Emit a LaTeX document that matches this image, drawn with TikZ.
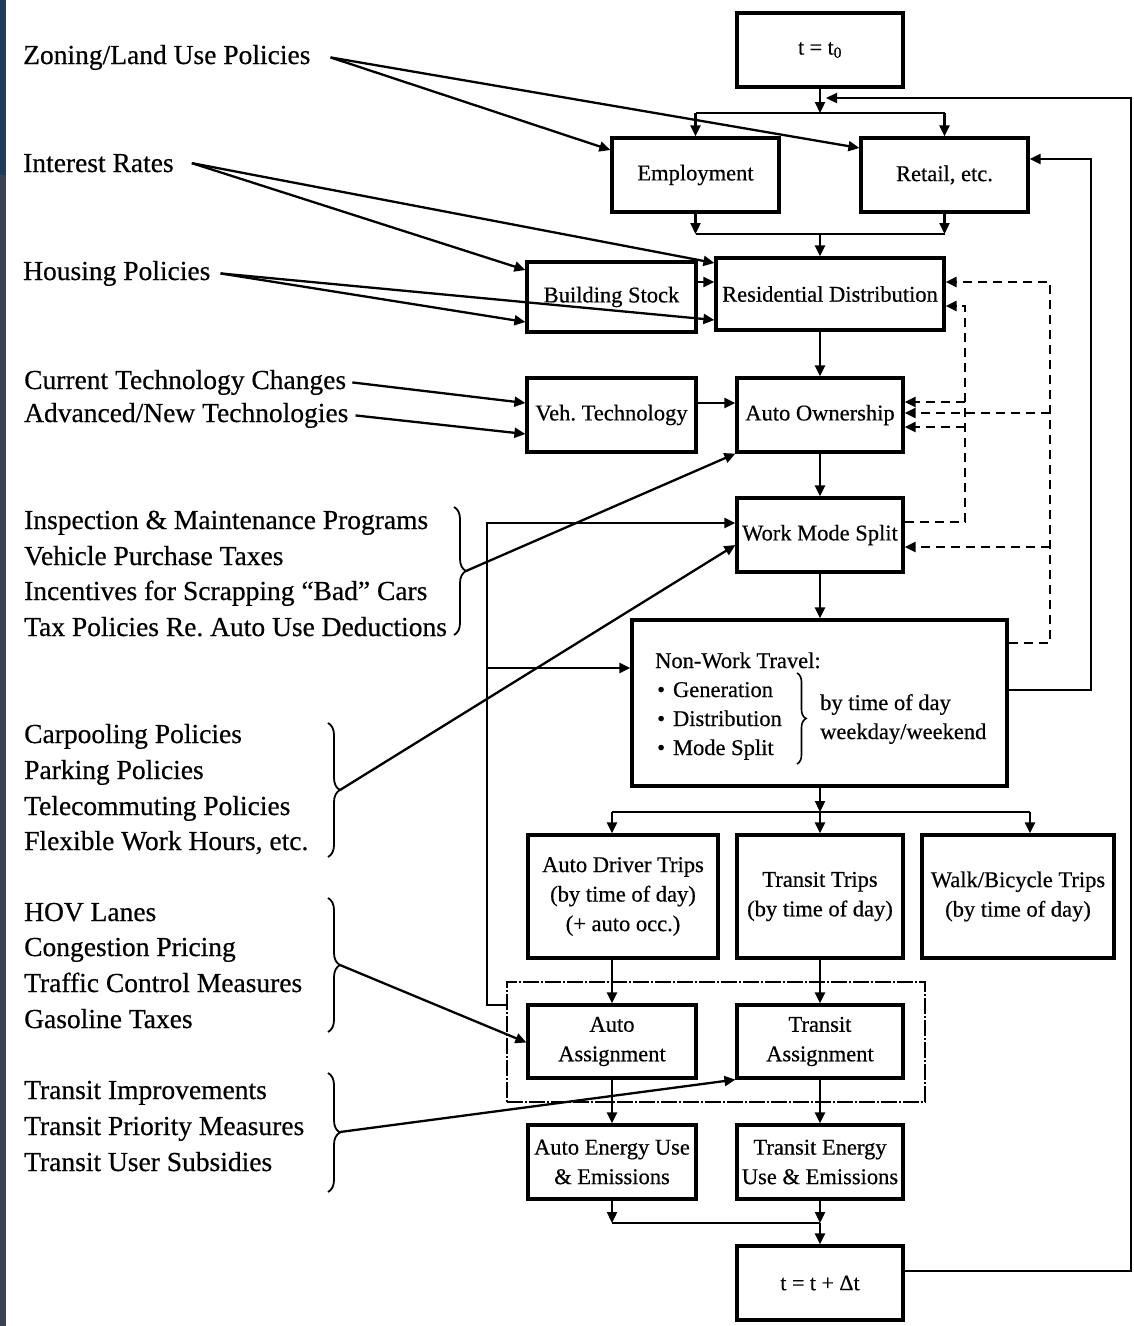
\documentclass[tikz,border=0pt]{standalone}
\usepackage{fontspec}
\setmainfont{Liberation Serif}[FakeBold=0.5]
\usetikzlibrary{arrows.meta,decorations.pathreplacing}
\newcommand\lpfont{\fontsize{27.5}{35.7}\selectfont}
\newcommand\bxfont{\fontsize{22.5}{29.5}\selectfont}
\newcommand\tkfont{\fontsize{22}{24}\selectfont}
\definecolor{stripc}{HTML}{3B4252}
\definecolor{stripb}{HTML}{1F3A5A}
\frenchspacing
\begin{document}
\begin{tikzpicture}[x=1pt,y=-1pt,
  box/.style={draw, line width=3.2pt, inner sep=0pt, align=center, font=\bxfont},
  lbl/.style={anchor=base west, inner sep=0pt, font=\lpfont},
  txt/.style={anchor=base west, inner sep=0pt, font=\bxfont},
  ln/.style={line width=2.3pt},
  arr/.style={line width=2.3pt, -{Triangle[length=11pt,width=10pt]}},
  darr/.style={arr, dash pattern=on 9pt off 6pt},
  brc/.style={line width=1.8pt, decorate, decoration={brace, amplitude=12pt}},
  brcs/.style={line width=1.6pt, decorate, decoration={brace, amplitude=9pt}},
  grp/.style={line width=1.2pt, dash pattern=on 16pt off 2pt on 2pt off 2pt}
]
\useasboundingbox (0,0) rectangle (1134,1326);
\fill[white] (0,0) rectangle (1134,1326);
% scanner edge
\fill[stripc] (0,0) rectangle (6,1326);
\fill[stripb] (0,0) rectangle (6,175);

% ---------- model boxes ----------
\node[box, minimum width=166pt, minimum height=74pt, font=\tkfont] (t0) at (820,50) {t = t\textsubscript{0}};
\node[box, minimum width=167pt, minimum height=74pt] (emp) at (695.5,175) {Employment};
\node[box, minimum width=167pt, minimum height=74pt] (ret) at (944.5,175) {Retail, etc.};
\node[box, minimum width=169pt, minimum height=70pt] (bld) at (611.5,297) {Building Stock};
\node[box, minimum width=228pt, minimum height=72pt] (res) at (830,294) {Residential Distribution};
\node[box, minimum width=169pt, minimum height=74pt] (veh) at (611.5,415) {Veh. Technology};
\node[box, minimum width=166pt, minimum height=74pt] (own) at (820,415) {Auto Ownership};
\node[box, minimum width=166pt, minimum height=74pt] (wms) at (820,535) {Work Mode Split};
\node[box, minimum width=375pt, minimum height=166pt] (nwt) at (819.5,703) {};
\node[box, minimum width=190pt, minimum height=123pt] (adt) at (623,896.5) {Auto Driver Trips\\(by time of day)\\(+ auto occ.)};
\node[box, minimum width=166pt, minimum height=123pt] (ttr) at (820,896.5) {Transit Trips\\(by time of day)};
\node[box, minimum width=192pt, minimum height=123pt] (wbt) at (1018,896.5) {Walk/Bicycle Trips\\(by time of day)};
\node[grp, draw, minimum width=418pt, minimum height=120pt, inner sep=0pt] (asg) at (716,1042) {};
\node[box, minimum width=168pt, minimum height=73pt] (aas) at (612,1041.5) {Auto\\Assignment};
\node[box, minimum width=166pt, minimum height=73pt] (tas) at (820,1041.5) {Transit\\Assignment};
\node[box, minimum width=168pt, minimum height=74pt] (aen) at (612,1162) {Auto Energy Use\\\& Emissions};
\node[box, minimum width=166pt, minimum height=74pt] (ten) at (820,1162) {Transit Energy\\Use \& Emissions};
\node[box, minimum width=166pt, minimum height=74pt, font=\tkfont] (tdt) at (820,1283) {t = t + Δt};

% contents of the non-work travel box
\node[txt] (nwh) at (655,668) {Non-Work Travel:};
\node[txt] (nb1) at (657,697) {\textbullet\hspace{8pt}Generation};
\node[txt] (nb2) at (657,726) {\textbullet\hspace{8pt}Distribution};
\node[txt] (nb3) at (657,755) {\textbullet\hspace{8pt}Mode Split};
\draw[brcs] (797,673) -- (797,764);
\node[txt] (nr1) at (820,710) {by time of day};
\node[txt] (nr2) at (820,739) {weekday/weekend};

% ---------- policy levers ----------
\node[lbl] (zon) at (23,64) {Zoning/Land Use Policies};
\node[lbl] (int) at (23,172) {Interest Rates};
\node[lbl] (hou) at (23,280) {Housing Policies};
\node[lbl] (cur) at (24,389) {Current Technology Changes};
\node[lbl] (adv) at (24,422) {Advanced/New Technologies};

\node[lbl] (g1a) at (24,529) {Inspection \& Maintenance Programs};
\node[lbl] (g1b) at (24,565) {Vehicle Purchase Taxes};
\node[lbl] (g1c) at (24,600) {Incentives for Scrapping “Bad” Cars};
\node[lbl] (g1d) at (24,636) {Tax Policies Re. Auto Use Deductions};
\draw[brc] (454,507) -- (454,635);
\coordinate (b1) at (466,571);

\node[lbl] (g2a) at (24,743) {Carpooling Policies};
\node[lbl] (g2b) at (24,779) {Parking Policies};
\node[lbl] (g2c) at (24,815) {Telecommuting Policies};
\node[lbl] (g2d) at (24,850) {Flexible Work Hours, etc.};
\draw[brc] (328,723) -- (328,857);
\coordinate (b2) at (340,790);

\node[lbl] (g3a) at (24,921) {HOV Lanes};
\node[lbl] (g3b) at (24,956) {Congestion Pricing};
\node[lbl] (g3c) at (24,992) {Traffic Control Measures};
\node[lbl] (g3d) at (24,1028) {Gasoline Taxes};
\draw[brc] (328,898) -- (328,1032);
\coordinate (b3) at (340,965);

\node[lbl] (g4a) at (24,1099) {Transit Improvements};
\node[lbl] (g4b) at (24,1135) {Transit Priority Measures};
\node[lbl] (g4c) at (24,1171) {Transit User Subsidies};
\draw[brc] (328,1073) -- (328,1192);
\coordinate (b4) at (340,1132);

% ---------- main flow ----------
\coordinate (j1) at (820,113);
\draw[arr] (t0.south) -- (j1);
\draw[ln] (j1 -| emp.north) -- (j1 -| ret.north);
\draw[arr] (j1 -| emp.north) -- (emp.north);
\draw[arr] (j1 -| ret.north) -- (ret.north);

\coordinate (j2) at (820,234);
\draw[arr] (emp.south) -- (emp.south |- j2);
\draw[arr] (ret.south) -- (ret.south |- j2);
\draw[ln] (emp.south |- j2) -- (ret.south |- j2);
\draw[arr] (j2) -- (j2 |- res.north);

\coordinate (bs) at ([yshift=15pt]bld.east);
\draw[arr] (bs) -- (bs -| res.west);
\draw[arr] (own.north |- res.south) -- (own.north);
\coordinate (vt) at ([yshift=12pt]veh.east);
\draw[arr] (vt) -- (vt -| own.west);
\draw[arr] (own.south) -- (wms.north);
\draw[arr] (wms.south) -- (wms.south |- nwt.north);

\coordinate (j3) at (820,812);
\coordinate (j3l) at (612,812);
\coordinate (j3r) at (1030,812);
\draw[arr] (j3 |- nwt.south) -- (j3);
\draw[ln] (j3l) -- (j3r);
\draw[arr] (j3l) -- (j3l |- adt.north);
\draw[arr] (j3) -- (j3 |- ttr.north);
\draw[arr] (j3r) -- (j3r |- wbt.north);

\draw[arr] (aas.north |- adt.south) -- (aas.north);
\draw[arr] (ttr.south) -- (tas.north);
\draw[arr] (aas.south) -- (aen.north);
\draw[arr] (tas.south) -- (ten.north);

\coordinate (j4) at (820,1223);
\draw[arr] (aen.south) -- (aen.south |- j4);
\draw[arr] (ten.south) -- (j4);
\draw[ln] (aen.south |- j4) -- (j4);
\draw[arr] (j4) -- (tdt.north);

% time-step loop
\coordinate (lp) at (1131,98);
\coordinate (lpin) at (826,98);
\draw[arr] ([yshift=12pt]tdt.east) -| (lp) -- (lpin);

% non-work travel back to retail
\coordinate (rf) at (1091,159);
\draw[arr] ([yshift=13pt]nwt.east) -| (rf) -- (rf -| ret.east);

% assignment feedback to work / non-work travel
\coordinate (fl) at (487,523);
\coordinate (fl2) at (487,668);
\draw[arr] ([yshift=37pt]asg.west) -| (fl) -- (fl -| wms.west);
\draw[arr] (fl2) -- (fl2 -| nwt.west);

% dashed feedback loops
\coordinate (da) at (1050,282);
\coordinate (da1) at (1050,413);
\coordinate (da2) at (1050,547);
\draw[darr] ([yshift=60pt]nwt.east) -| (da) -- (da -| res.east);
\draw[darr] (da1) -- (da1 -| own.east);
\draw[darr] (da2) -- (da2 -| wms.east);

\coordinate (db) at (965,306);
\coordinate (db1) at (965,402);
\coordinate (db2) at (965,427);
\draw[darr] ([yshift=13pt]wms.east) -| (db) -- (db -| res.east);
\draw[darr] (db1) -- (db1 -| own.east);
\draw[darr] (db2) -- (db2 -| own.east);

% ---------- policy arrows ----------
\draw[arr] ([xshift=20pt]zon.east) -- ([yshift=25pt]emp.west);
\draw[arr] ([xshift=20pt]zon.east) -- ([yshift=27pt]ret.west);
\draw[arr] ([xshift=18pt]int.east) -- ([yshift=27pt]bld.west);
\draw[arr] ([xshift=18pt]int.east) -- ([yshift=31pt]res.west);
\draw[arr] ([xshift=10pt]hou.east) -- ([yshift=-25pt]bld.west);
\draw[arr] ([xshift=10pt]hou.east) -- ([yshift=-26pt]res.west);
\draw[arr] ([xshift=6pt]cur.east) -- ([yshift=12pt]veh.west);
\draw[arr] ([xshift=7pt]adv.east) -- ([yshift=-19pt]veh.west);

\draw[arr] (b1) -- (own.south west);
\draw[arr] (b2) -- ([yshift=-10pt]wms.west);
\draw[arr] (b3) -- ([yshift=-1pt]aas.west);
\draw[arr] (b4) -- (tas.south west);
\end{tikzpicture}
\end{document}
